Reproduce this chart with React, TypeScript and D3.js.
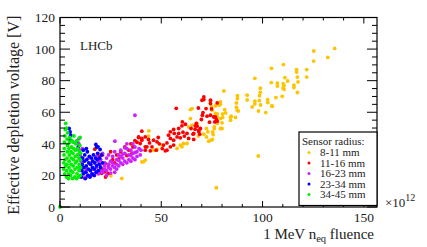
import React from 'react';
import * as d3 from 'd3';

type Pt = [number, number];

// 8-11 mm
const orange: Pt[] = [
  [135.6, 100.4], [125.3, 98.8], [125.2, 92.4], [132.2, 94.7], [110.3, 90.2], [104.4, 87.8],
  [116.8, 87.0], [116.8, 85.5], [121.8, 87.0], [121.8, 82.3], [117.2, 82.3], [117.5, 79.2],
  [117.2, 72.5], [111.0, 81.9], [112.4, 79.8], [110.2, 78.1], [110.6, 76.9], [110.1, 75.4],
  [110.6, 74.5], [107.3, 78.5], [107.3, 76.6], [104.3, 78.8], [115.5, 77.1], [115.5, 75.6],
  [106.6, 69.3], [109.7, 70.1], [104.5, 64.0], [96.2, 81.5], [80.9, 73.5], [98.9, 75.2],
  [98.9, 72.6], [98.5, 70.5], [92.4, 70.8], [87.6, 70.5], [87.6, 68.6], [96.2, 67.0],
  [96.2, 65.3], [98.4, 67.4], [99.0, 64.6], [102.5, 68.0], [102.6, 66.1], [104.8, 63.8],
  [101.6, 59.8], [98.0, 60.8], [87.1, 65.9], [87.1, 63.2], [88.0, 60.8], [86.6, 56.7],
  [84.2, 56.9], [84.2, 55.0], [81.3, 61.7], [81.8, 59.6], [79.2, 66.5], [79.2, 65.1],
  [78.5, 64.4], [76.7, 64.0], [74.8, 63.6], [80.3, 58.9], [80.3, 56.7], [77.6, 58.9],
  [77.6, 57.0], [80.0, 53.3], [80.0, 49.7], [76.2, 49.7], [75.4, 47.6], [75.2, 42.8],
  [73.4, 41.7], [74.6, 42.3], [72.3, 44.4], [73.0, 47.6], [72.3, 49.7], [71.0, 46.1],
  [68.3, 44.9], [97.9, 32.3], [77.2, 12.2], [87.5, 61.3], [84.5, 57.5], [79.2, 56.0],
  [77.6, 52.9], [75.6, 45.9], [79.2, 49.7], [76.2, 50.7], [74.3, 66.5], [75.1, 61.3],
  [76.7, 59.2], [65.2, 62.3], [64.4, 61.7], [64.4, 56.0], [65.2, 51.8], [67.7, 52.9],
  [63.5, 50.7], [60.2, 38.1], [57.8, 37.1], [59.4, 39.2], [61.0, 40.2], [62.7, 40.2],
  [50.3, 39.2], [46.2, 36.0], [47.9, 36.4], [43.9, 48.2], [43.7, 44.9], [40.4, 28.6],
  [41.2, 28.6], [42.1, 29.7], [30.5, 18.1], [25.1, 19.8], [92.4, 67.8], [94.9, 63.4],
];

// 11-16 mm
const red: Pt[] = [
  [17.2, 36.6], [19.5, 32.0], [20.0, 30.0], [21.0, 33.0], [22.1, 22.3], [23.8, 21.3],
  [22.5, 19.0], [21.0, 24.0], [24.0, 27.0], [26.0, 30.0], [28.0, 33.0], [25.0, 35.0],
  [22.3, 27.6], [23.9, 25.5], [20.6, 21.3], [30.0, 35.0], [32.0, 38.0], [34.0, 36.0],
  [35.0, 40.0], [36.0, 38.0], [37.0, 42.0], [38.0, 41.0], [40.4, 48.0], [38.8, 44.0],
  [40.4, 43.4], [42.1, 44.4], [43.7, 42.8], [44.2, 40.6], [46.2, 42.3], [47.9, 41.3],
  [45.4, 38.1], [42.9, 38.1], [42.1, 36.0], [39.6, 40.2], [47.5, 36.0], [44.6, 35.6],
  [52.0, 35.6], [57.4, 62.5], [56.1, 49.1], [58.6, 49.7], [60.2, 51.4], [60.4, 53.9],
  [61.9, 52.4], [54.5, 47.6], [56.4, 46.6], [58.6, 46.6], [60.7, 47.4], [62.7, 46.6],
  [64.7, 49.7], [66.8, 51.4], [53.6, 45.5], [54.5, 43.4], [56.1, 42.3], [57.8, 44.4],
  [59.4, 43.8], [61.4, 44.9], [63.5, 43.4], [66.0, 46.6], [68.5, 47.6], [51.1, 39.2],
  [52.8, 40.6], [54.5, 38.1], [56.1, 39.2], [52.8, 36.0], [71.0, 69.7], [71.0, 68.0],
  [77.6, 65.9], [74.3, 65.5], [68.3, 62.7], [72.1, 62.3], [74.8, 62.1], [70.6, 59.8],
  [72.6, 57.5], [74.3, 58.1], [75.9, 57.0], [77.2, 55.4], [70.3, 58.1], [69.8, 55.4],
  [73.8, 53.7], [76.4, 53.9], [77.6, 54.3], [67.3, 52.9], [67.7, 51.2], [66.7, 49.3],
  [68.5, 48.6], [65.7, 46.1], [66.0, 42.8], [69.3, 49.7], [69.0, 46.1], [70.1, 67.6],
  [74.3, 67.6], [76.7, 57.0], [38.8, 44.4], [40.4, 42.3], [42.1, 38.1], [49.0, 40.0],
  [50.5, 37.0], [48.5, 44.0], [35.5, 34.0], [33.0, 32.5], [29.0, 30.5], [27.0, 28.0],
];

// 16-23 mm
const magenta: Pt[] = [
  [37.0, 58.1], [27.1, 41.7], [32.0, 37.5], [9.2, 40.2], [9.5, 43.5], [9.5, 36.0],
  [10.0, 33.0], [10.5, 29.0], [11.0, 37.0], [12.0, 18.5], [13.0, 19.0], [14.0, 20.0],
  [15.0, 19.5], [16.0, 21.0], [17.0, 20.0], [18.0, 22.0], [19.0, 21.0], [20.0, 23.0],
  [21.0, 22.0], [22.0, 24.0], [23.0, 23.0], [24.0, 25.0], [25.0, 24.0], [26.0, 26.0],
  [27.0, 25.0], [28.0, 27.0], [29.0, 26.0], [30.0, 28.0], [31.0, 27.0], [32.0, 29.0],
  [33.0, 28.0], [34.0, 30.0], [35.0, 29.0], [36.0, 31.0], [37.0, 30.0], [38.0, 32.0],
  [14.0, 31.0], [16.0, 29.0], [18.0, 32.0], [20.0, 30.0], [21.0, 34.0], [22.0, 28.0],
  [23.0, 31.0], [24.0, 33.0], [25.0, 29.0], [26.0, 32.0], [27.0, 35.0], [28.0, 30.0],
  [29.0, 33.0], [30.0, 36.0], [31.0, 31.0], [32.0, 34.0], [33.0, 37.0], [34.0, 33.0],
  [35.0, 36.0], [36.0, 34.0], [37.0, 38.0], [38.0, 35.0], [39.0, 37.0], [40.0, 36.0],
  [39.6, 33.0], [36.0, 40.0], [33.0, 40.0], [30.0, 32.0], [28.0, 24.0], [26.0, 28.0],
  [24.0, 27.0], [22.0, 26.0], [20.0, 27.0], [18.0, 25.0], [16.0, 24.0], [15.0, 27.0],
  [13.0, 24.0], [12.0, 22.0], [11.0, 25.0], [17.0, 28.0], [19.0, 29.0], [23.0, 20.0],
  [25.0, 21.5], [27.0, 22.0], [29.0, 29.5], [31.0, 33.5], [35.0, 32.5], [37.0, 34.5],
];

// 23-34 mm
const blue: Pt[] = [
  [4.5, 49.7], [5.3, 45.5], [5.0, 47.5], [4.8, 43.0], [10.5, 19.0], [10.8, 23.0],
  [11.0, 27.0], [11.2, 31.0], [11.5, 21.0], [11.8, 25.0], [12.0, 29.0], [12.2, 33.0],
  [12.5, 18.0], [12.8, 22.0], [13.0, 26.0], [13.2, 30.0], [13.5, 35.0], [13.8, 20.0],
  [14.0, 24.0], [14.2, 28.0], [14.5, 32.0], [14.8, 19.0], [15.0, 23.0], [15.2, 27.0],
  [15.5, 31.0], [15.8, 21.0], [16.0, 25.0], [16.2, 29.0], [16.5, 33.0], [16.8, 20.0],
  [17.0, 24.0], [17.2, 28.0], [17.5, 31.0], [17.8, 22.0], [18.0, 26.0], [18.3, 30.0],
  [18.6, 34.0], [19.0, 23.0], [19.3, 27.0], [19.6, 31.0], [20.0, 25.0], [17.7, 39.6],
  [18.8, 38.1], [19.8, 36.4], [13.0, 37.0], [11.5, 36.0], [8.5, 42.0], [9.0, 38.0],
  [21.0, 28.0], [20.5, 33.0], [10.7, 31.0], [18.1, 38.0],
];

// 34-45 mm
const green: Pt[] = [
  [0, 0], [1.8, 24], [1.9, 28], [2.0, 33], [2.1, 37], [2.2, 41], [2.4, 45], [2.6, 49],
  [2.8, 53], [2.3, 21], [2.5, 30], [2.7, 26], [3.2, 19], [3.3, 23], [3.4, 27], [3.5, 31],
  [3.6, 35], [3.7, 39], [3.5, 43], [3.8, 47], [3.2, 50], [4.2, 18], [4.3, 21], [4.4, 25],
  [4.5, 29], [4.6, 33], [4.4, 37], [4.7, 41], [4.8, 44], [5.2, 20], [5.3, 23], [5.5, 27],
  [5.6, 31], [5.4, 35], [5.7, 38], [5.9, 42], [6.2, 18], [6.3, 22], [6.5, 26], [6.6, 30],
  [6.4, 34], [6.8, 37], [6.7, 41], [6.9, 45], [7.3, 19], [7.4, 24], [7.6, 28], [7.5, 32],
  [7.7, 36], [7.8, 40], [8.2, 18], [8.4, 21], [8.5, 25], [8.3, 29], [8.6, 33], [8.8, 37],
  [8.7, 42], [9.2, 19], [9.4, 23], [9.5, 27], [9.3, 31], [9.6, 35], [9.8, 39], [9.9, 44],
  [10.0, 20], [10.1, 25], [10.0, 30], [10.2, 34],
];

const seriesNames = ['8-11 mm', '11-16 mm', '16-23 mm', '23-34 mm', '34-45 mm'];
const seriesData = [orange, red, magenta, blue, green];
const seriesColors = ['#ffc400', '#ff0000', '#cc22ff', '#0000ff', '#00ee00'];

const xMajor = [0, 50, 100, 150];
const yMajor = [0, 20, 40, 60, 80, 100, 120];

const W = 427;
const H = 247;
const L = 60;
const R = 377;
const T = 17.5;
const B = 207;
const font = '"Liberation Serif", "DejaVu Serif", serif';

export default function App() {
  const x = d3.scaleLinear().domain([0, 156.5]).range([L, R]);
  const y = d3.scaleLinear().domain([0, 120]).range([B, T]);
  const xMinor = d3.range(0, 157, 10);
  const yMinor = d3.range(0, 121, 5);

  return (
    <svg width={W} height={H} style={{ position: 'absolute', left: 0, top: 0, background: '#fff' }}>
      <rect x={0} y={0} width={W} height={H} fill="#fff" />
      {/* points */}
      {seriesData.map((pts, si) => (
        <g key={si} fill={seriesColors[si]}>
          {pts.map((p, i) => (
            <circle key={i} cx={x(p[0])} cy={y(p[1])} r={1.9} />
          ))}
        </g>
      ))}
      {/* frame + ticks */}
      <g stroke="#000" strokeWidth={1}>
        {xMinor.map((v) => {
          const len = v % 50 === 0 ? 6 : 3;
          return (
            <g key={'x' + v}>
              <line x1={x(v)} x2={x(v)} y1={B} y2={B - len} />
              <line x1={x(v)} x2={x(v)} y1={T} y2={T + len} />
            </g>
          );
        })}
        {yMinor.map((v) => {
          const len = v % 20 === 0 ? 10 : 5;
          return (
            <g key={'y' + v}>
              <line x1={L} x2={L + len} y1={y(v)} y2={y(v)} />
              <line x1={R} x2={R - len} y1={y(v)} y2={y(v)} />
            </g>
          );
        })}
        <rect x={L} y={T} width={R - L} height={B - T} fill="none" strokeWidth={1.2} />
      </g>
      {/* tick labels */}
      <g fontFamily={font} fontSize={13.5} fill="#222">
        {xMajor.map((v) => (
          <text key={v} x={x(v)} y={221.5} textAnchor="middle">{v}</text>
        ))}
        {yMajor.map((v) => (
          <text key={v} x={55} y={y(v)} dy="0.35em" textAnchor="end">{v}</text>
        ))}
      </g>
      <text x={385} y={207} fontFamily={font} fontSize={13} fill="#222">
        ×10<tspan dy={-6} fontSize={10}>12</tspan>
      </text>
      {/* axis titles */}
      <text x={374} y={238.5} textAnchor="end" fontFamily={font} fontSize={15} fill="#222">
        1 MeV n<tspan dy={3.5} fontSize={10.5}>eq</tspan><tspan dy={-3.5}> fluence</tspan>
      </text>
      <text transform={`translate(19,${(T + B) / 2 + 3}) rotate(-90)`} textAnchor="middle"
        fontFamily={font} fontSize={16} fill="#222">
        Effective depletion voltage [V]
      </text>
      <text x={80} y={50} fontFamily={font} fontSize={13} fill="#222">LHCb</text>
      {/* legend */}
      <g>
        <rect x={299} y={132} width={R - 299} height={B - 1.5 - 132} fill="#fff" stroke="#000" strokeWidth={1.2} />
        <text x={302} y={145} fontFamily={font} fontSize={11} fill="#222">Sensor radius:</text>
        {seriesNames.map((n, i) => (
          <g key={n}>
            <circle cx={309} cy={152.5 + i * 10.5} r={1.5} fill={seriesColors[i]} />
            <text x={320} y={156 + i * 10.5} fontFamily={font} fontSize={11} fill="#222">{n}</text>
          </g>
        ))}
      </g>
    </svg>
  );
}
